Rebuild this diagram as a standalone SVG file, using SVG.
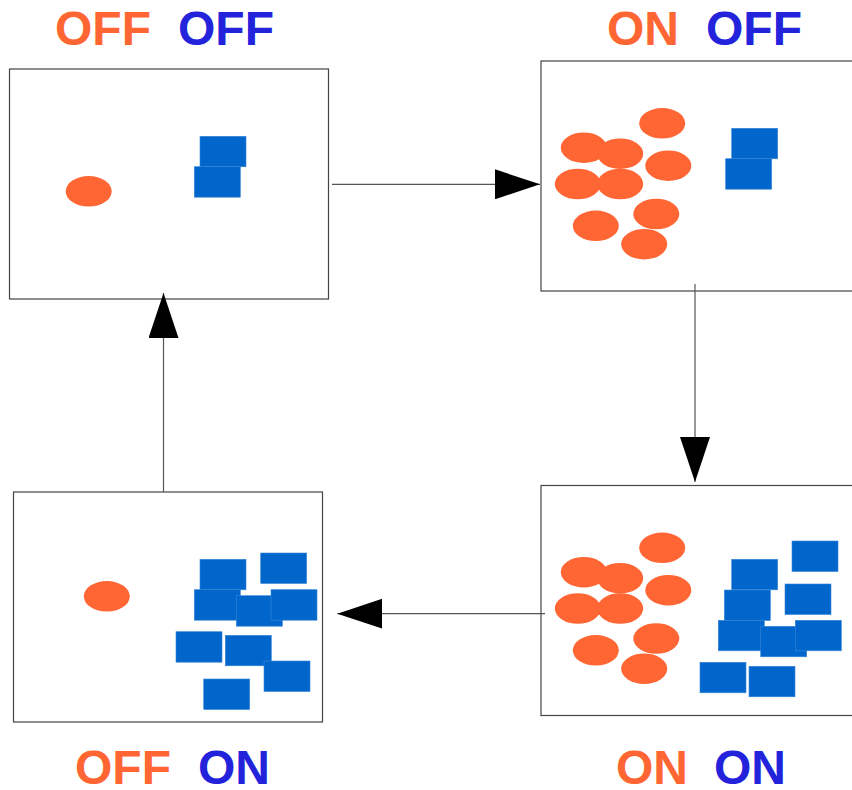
<svg xmlns="http://www.w3.org/2000/svg" width="852" height="790" viewBox="0 0 852 790">
  <style>
    .panel { fill: #ffffff; stroke: #444444; stroke-width: 1.2; }
    .dot { fill: #FF6633; }
    .blk { fill: #0066CC; stroke: #3a86d6; stroke-width: 0.6; }
    .wire { stroke: #555555; stroke-width: 1.2; fill: none; marker-end: url(#head); }
    .lbl { font-family: "Liberation Sans", Arial, sans-serif; font-weight: bold; font-size: 48px; }
    .org { fill: #FF6633; }
    .blu { fill: #2323DC; }
  </style>
  <defs>
    <marker id="head" markerUnits="userSpaceOnUse" markerWidth="45" markerHeight="30" refX="45" refY="15" orient="auto">
      <path d="M0,0 L45,15 L0,30 Z" fill="#000000"/>
    </marker>
    <ellipse id="e" rx="23" ry="15.3" class="dot"/>
    <rect id="r" width="46" height="30.5" class="blk"/>
    <!-- nine-particle orange cluster, reused by two states -->
    <g id="cluster">
      <use href="#e" x="662.2" y="123.3"/>
      <use href="#e" x="583.8" y="147.7"/>
      <use href="#e" x="620.2" y="153.7"/>
      <use href="#e" x="668.3" y="165.7"/>
      <use href="#e" x="577.8" y="184"/>
      <use href="#e" x="620.2" y="184"/>
      <use href="#e" x="656.3" y="214"/>
      <use href="#e" x="595.8" y="225.8"/>
      <use href="#e" x="644.2" y="244.2"/>
    </g>
  </defs>

  <!-- state: OFF / OFF -->
  <g id="state-off-off">
    <rect class="panel" x="9.5" y="69" width="319" height="230"/>
    <use href="#e" x="88.7" y="191.3"/>
    <use href="#r" x="200" y="136.3"/>
    <use href="#r" x="194.3" y="166.7"/>
    <text class="lbl org" x="55" y="45">OFF</text>
    <text class="lbl blu" x="178" y="45">OFF</text>
  </g>

  <!-- state: ON / OFF -->
  <g id="state-on-off">
    <rect class="panel" x="541" y="61" width="320" height="230"/>
    <use href="#cluster"/>
    <use href="#r" x="731.7" y="128.3"/>
    <use href="#r" x="725.7" y="158.7"/>
    <text class="lbl org" x="607" y="45">ON</text>
    <text class="lbl blu" x="706" y="45">OFF</text>
  </g>

  <!-- state: ON / ON -->
  <g id="state-on-on">
    <rect class="panel" x="541" y="485.5" width="320" height="230"/>
    <use href="#cluster" y="424.5"/>
    <use href="#r" x="792" y="541"/>
    <use href="#r" x="731.7" y="559.3"/>
    <use href="#r" x="785" y="584"/>
    <use href="#r" x="724.3" y="590"/>
    <use href="#r" x="718.3" y="620.3"/>
    <use href="#r" x="760.7" y="626.3"/>
    <use href="#r" x="795.3" y="620.3"/>
    <use href="#r" x="700" y="662.3"/>
    <use href="#r" x="749" y="666.3"/>
    <text class="lbl org" x="616" y="783.5">ON</text>
    <text class="lbl blu" x="714" y="783.5">ON</text>
  </g>

  <!-- state: OFF / ON -->
  <g id="state-off-on">
    <rect class="panel" x="13.5" y="492" width="309" height="230"/>
    <use href="#e" x="106.8" y="596.3"/>
    <use href="#r" x="200" y="559.3"/>
    <use href="#r" x="260.7" y="553"/>
    <use href="#r" x="194.3" y="589.7"/>
    <use href="#r" x="236.3" y="595.7"/>
    <use href="#r" x="271" y="589.7"/>
    <use href="#r" x="176" y="631.7"/>
    <use href="#r" x="225.3" y="635.3"/>
    <use href="#r" x="264" y="661"/>
    <use href="#r" x="203.7" y="679"/>
    <text class="lbl org" x="75" y="783.5">OFF</text>
    <text class="lbl blu" x="198" y="783.5">ON</text>
  </g>

  <!-- transitions -->
  <g id="connectors">
    <line class="wire" x1="332" y1="184.3" x2="540" y2="184.3"/>
    <line class="wire" x1="695" y1="284" x2="695" y2="482"/>
    <line class="wire" x1="545" y1="613.7" x2="337.3" y2="613.7"/>
    <line class="wire" x1="163.5" y1="492" x2="163.5" y2="293"/>
  </g>
</svg>
